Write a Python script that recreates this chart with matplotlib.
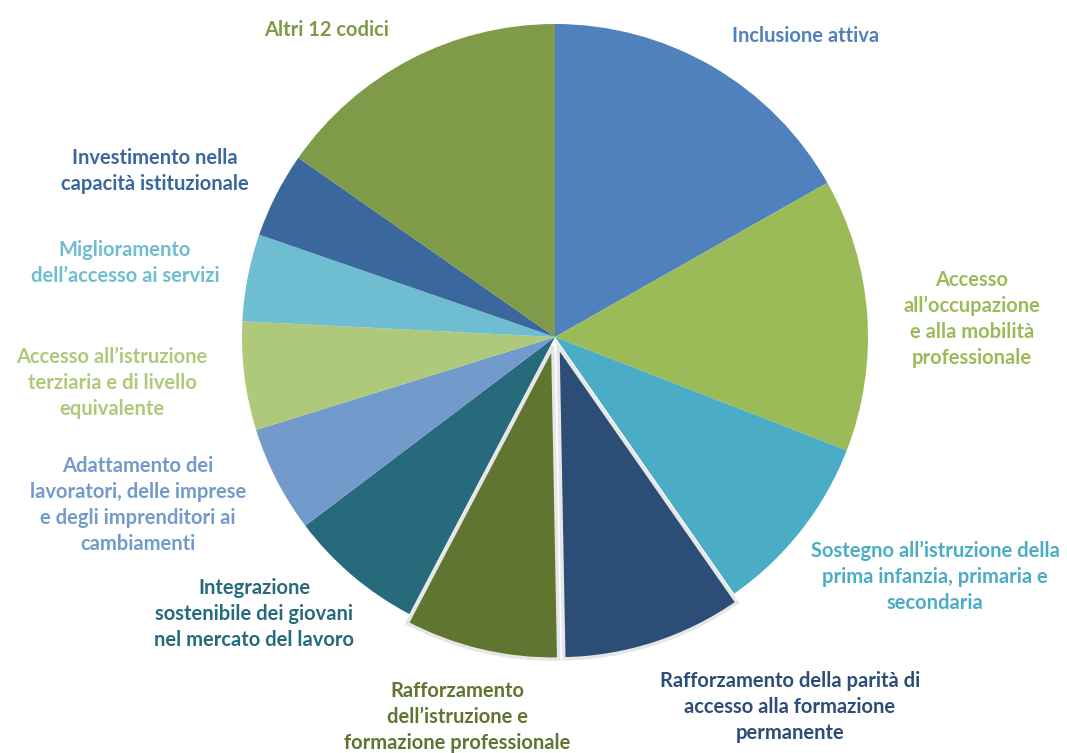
import matplotlib.pyplot as plt

# quote per codice di intervento (%), in senso orario dalle ore 12
categorie = [
    "Inclusione attiva",
    "Accesso all’occupazione e alla mobilità professionale",
    "Sostegno all’istruzione della prima infanzia, primaria e secondaria",
    "Rafforzamento della parità di accesso alla formazione permanente",
    "Rafforzamento dell’istruzione e formazione professionale",
    "Integrazione sostenibile dei giovani nel mercato del lavoro",
    "Adattamento dei lavoratori, delle imprese e degli imprenditori ai cambiamenti",
    "Accesso all’istruzione terziaria e di livello equivalente",
    "Miglioramento dell’accesso ai servizi",
    "Investimento nella capacità istituzionale",
    "Altri 12 codici",
]
quote = [16.8, 14.1, 9.4, 9.4, 8.0, 7.0, 5.5, 5.6, 4.5, 4.4, 15.3]
colori = ["#4F81BD", "#9BBB59", "#4BACC6", "#2C4D75", "#5F7530", "#276A7C",
          "#729ACA", "#AFC97A", "#6FBDD1", "#3A679C", "#7F9A48"]
esplosi = [0, 0, 0, 0.03, 0.03, 0, 0, 0, 0, 0, 0]

W, H = 1067, 753
fig = plt.figure(figsize=(W / 100, H / 100), dpi=100)

cx, cy, r = 555, 337, 313
ax = fig.add_axes([(cx - r) / W, 1 - (cy + r) / H, 2 * r / W, 2 * r / H])
wedges, _ = ax.pie(quote, colors=colori, startangle=90, counterclock=False,
                   explode=esplosi, radius=1)
for w, e in zip(wedges, esplosi):
    if e:
        w.set_edgecolor("#E6E6E6")
        w.set_linewidth(2.5)
    w.set_clip_on(False)
ax.set_xlim(-1, 1)
ax.set_ylim(-1, 1)
ax.set_aspect("equal")
ax.axis("off")

# etichette: (testo, x, y del centro in pixel, colore)
etichette = [
    ("Inclusione attiva", 806, 36, "#4F81BD"),
    ("Accesso\nall’occupazione\ne alla mobilità\nprofessionale", 972, 319, "#9BBB59"),
    ("Sostegno all’istruzione della\nprima infanzia, primaria e\nsecondaria", 935, 577, "#4BACC6"),
    ("Rafforzamento della parità di\naccesso alla formazione\npermanente", 790, 707, "#2C4D75"),
    ("Rafforzamento\ndell’istruzione e\nformazione professionale", 457, 717, "#5F7530"),
    ("Integrazione\nsostenibile dei giovani\nnel mercato del lavoro", 254, 614, "#276A7C"),
    ("Adattamento dei\nlavoratori, delle imprese\ne degli imprenditori ai\ncambiamenti", 138, 505, "#729ACA"),
    ("Accesso all’istruzione\nterziaria e di livello\nequivalente", 112, 383, "#AFC97A"),
    ("Miglioramento\ndell’accesso ai servizi", 125, 263, "#6FBDD1"),
    ("Investimento nella\ncapacità istituzionale", 155, 171, "#3A679C"),
    ("Altri 12 codici", 327, 30, "#7F9A48"),
]
for testo, x, y, col in etichette:
    fig.text(x / W, 1 - y / H, testo, ha="center", va="center", multialignment="center",
             color=col, fontsize=14.5, fontweight="bold", family=["Lato", "DejaVu Sans"],
             linespacing=1.38)

fig.savefig("out.png", dpi=100)
